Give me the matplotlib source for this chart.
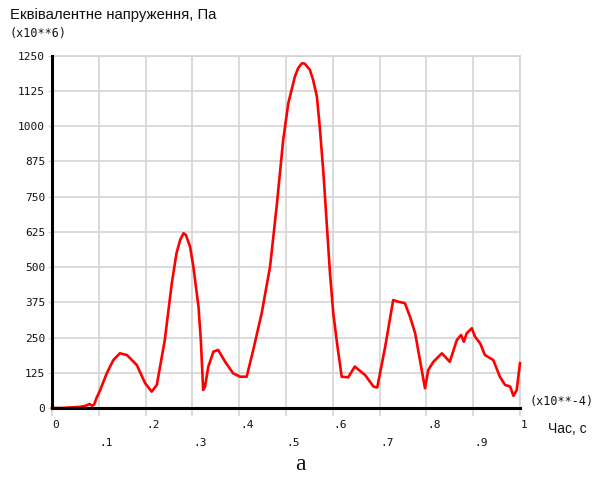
import matplotlib
matplotlib.use("Agg")
import matplotlib.pyplot as plt
import matplotlib.transforms as mtransforms

# Time (x10**-4 s) and equivalent stress (x10**6 Pa)
t = [0.000, 0.020, 0.040, 0.060, 0.072, 0.080, 0.086, 0.090, 0.095, 0.103, 0.117, 0.131,
     0.145, 0.160, 0.181, 0.199, 0.213, 0.224, 0.241, 0.256, 0.266, 0.274, 0.281,
     0.286, 0.295, 0.302, 0.313, 0.318, 0.323, 0.327, 0.334, 0.345, 0.355, 0.370,
     0.387, 0.402, 0.416, 0.430, 0.448, 0.466, 0.480, 0.494, 0.505, 0.512, 0.519,
     0.526, 0.534, 0.540, 0.551, 0.558, 0.566, 0.572, 0.580, 0.587, 0.594, 0.601,
     0.610, 0.619, 0.633, 0.647, 0.669, 0.687, 0.695, 0.712, 0.729, 0.740, 0.754,
     0.765, 0.776, 0.790, 0.797, 0.804, 0.815, 0.833, 0.850, 0.865, 0.874, 0.880,
     0.886, 0.897, 0.904, 0.915, 0.925, 0.943, 0.957, 0.968, 0.979, 0.986, 0.993, 1.000]
stress = [0, 0, 2, 4, 8, 14, 8, 12, 35, 64, 123, 170,
          194, 188, 153, 88, 58, 82, 241, 443, 549, 597, 620,
          614, 573, 502, 360, 241, 64, 76, 147, 200, 206, 164,
          123, 111, 111, 206, 336, 502, 715, 951, 1082, 1129, 1176,
          1206, 1223, 1222, 1200, 1164, 1105, 1000, 833, 656, 478, 336,
          218, 111, 109, 147, 117, 76, 73, 218, 383, 377, 372,
          324, 265, 135, 70, 135, 164, 194, 164, 241, 259, 235,
          265, 283, 253, 229, 188, 170, 111, 82, 76, 43, 64, 159]

y_ticks = [0, 125, 250, 375, 500, 625, 750, 875, 1000, 1125, 1250]
y_labels = ["0", "125", "250", "375", "500", "625", "750", "875", "1000", "1125", "1250"]
x_ticks = [0, 0.1, 0.2, 0.3, 0.4, 0.5, 0.6, 0.7, 0.8, 0.9, 1.0]
x_labels = ["0", ".1", ".2", ".3", ".4", ".5", ".6", ".7", ".8", ".9", "1"]

title = "Еквівалентне напруження, Па"
y_mult = "(x10**6)"
x_mult = "(x10**-4)"
x_name = "Час, с"
panel = "а"

fig = plt.figure(figsize=(6.05, 4.82), dpi=100)
ax = fig.add_axes([52/605, 1 - 408/482, 468/605, (408 - 55.7)/482])

grid_c = "#d4d4d4"
ax.set_xlim(0, 1)
ax.set_ylim(0, 1250)
ax.set_xticks(x_ticks)
ax.set_yticks(y_ticks)
ax.grid(True, color=grid_c, linewidth=1.2)
ax.set_axisbelow(True)

for s in ["top", "right"]:
    ax.spines[s].set_color(grid_c)
    ax.spines[s].set_linewidth(1.2)
for s in ["left", "bottom"]:
    ax.spines[s].set_color("black")
    ax.spines[s].set_linewidth(2.2)
    ax.spines[s].set_zorder(5)

ax.plot(t, stress, color="#ff0000", linewidth=1.9, zorder=4, clip_on=False,
        solid_joinstyle="round")

mono = "DejaVu Sans Mono"
ax.set_yticklabels(y_labels, fontsize=8, family=mono, color="#111111")
ax.tick_params(axis="y", length=3, color=grid_c, pad=2)
ax.set_xticklabels(x_labels, fontsize=8, family=mono, color="#111111")
ax.tick_params(axis="x", length=6, color=grid_c, width=1.2, pad=3)

for i, lab in enumerate(ax.get_xticklabels()):
    dy = 0 if i % 2 == 0 else -17
    lab.set_horizontalalignment("left")
    lab.set_transform(lab.get_transform() +
                      mtransforms.ScaledTranslation(0.5/72, dy/100, fig.dpi_scale_trans))

fig.text(10/605, 1 - 15/482, title, fontsize=10.7, family="Liberation Sans",
         ha="left", va="center", color="#111111")
fig.text(10/605, 1 - 33/482, y_mult, fontsize=8.5, family=mono,
         ha="left", va="center", color="#111111")
fig.text(530/605, 1 - 401/482, x_mult, fontsize=8.5, family=mono,
         ha="left", va="center", color="#111111")
fig.text(548/605, 1 - 429/482, x_name, fontsize=10, family="Liberation Sans",
         ha="left", va="center", color="#111111")
fig.text(300/605, 1 - 465/482, panel, fontsize=17, family="Liberation Serif",
         ha="center", va="center", color="#111111")

fig.savefig("out.png", dpi=100)
